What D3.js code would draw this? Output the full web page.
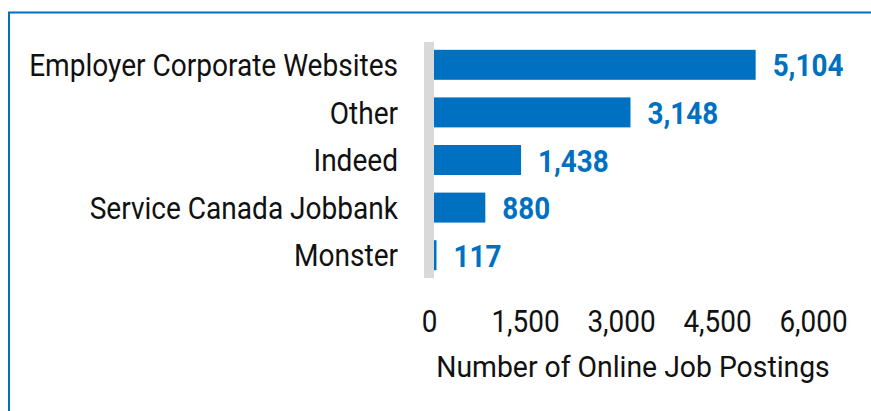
<!DOCTYPE html>
<html>
<head>
<meta charset="utf-8">
<script src="https://cdn.jsdelivr.net/npm/d3@7"></script>
<style>
  body { margin: 0; background: #fff; }
  svg { display: block; font-family: Roboto, sans-serif; }
</style>
</head>
<body>
<svg id="chart" width="871" height="411"></svg>
<script>
// data
var categories = ["Employer Corporate Websites", "Other", "Indeed", "Service Canada Jobbank", "Monster"];
var postings = [5104, 3148, 1438, 880, 117];
var tickValues = [0, 1500, 3000, 4500, 6000];
var axisTitle = "Number of Online Job Postings";

var blue = "#0070c0", grey = "#d9d9d9", ink = "#111";

var svg = d3.select("#chart");

// frame: only the top and left edges show
svg.append("path")
  .attr("d", "M9,420 V12.5 H880")
  .attr("fill", "none")
  .attr("stroke", blue)
  .attr("stroke-width", 2);

var x = d3.scaleLinear().domain([0, 6000]).range([429, 813]);
var y = d3.scaleBand().domain(categories).range([41, 279]).paddingInner(0.37).paddingOuter(0.185);

var rows = categories.map(function(c, i) { return { cat: c, val: postings[i] }; });

// the original type is a condensed face, so squeeze Roboto a bit
function squeeze(sx) {
  return function(d) {
    var t = d3.select(this);
    var px = +t.attr("x") || 0, py = +t.attr("y") || 0;
    t.attr("x", 0).attr("y", 0)
      .attr("transform", "translate(" + px + "," + py + ") scale(" + sx + ",1)");
  };
}

// bars
svg.append("g").selectAll("rect")
  .data(rows)
  .enter().append("rect")
  .attr("x", x(0))
  .attr("y", function(d) { return y(d.cat); })
  .attr("width", function(d) { return x(d.val) - x(0); })
  .attr("height", y.bandwidth())
  .attr("fill", blue);

// thick grey baseline
svg.append("rect")
  .attr("x", x(0) - 5)
  .attr("y", 42)
  .attr("width", 10)
  .attr("height", 236)
  .attr("fill", grey);

// category labels
svg.append("g").selectAll("text")
  .data(rows)
  .enter().append("text")
  .attr("x", 398)
  .attr("y", function(d) { return y(d.cat) + y.bandwidth() / 2; })
  .attr("dy", "0.36em")
  .attr("text-anchor", "end")
  .attr("font-size", 31)
  .attr("fill", ink)
  .text(function(d) { return d.cat; })
  .each(squeeze(0.905));

// value labels
var fmt = d3.format(",");
svg.append("g").selectAll("text")
  .data(rows)
  .enter().append("text")
  .attr("x", function(d) { return x(d.val) + 17; })
  .attr("y", function(d) { return y(d.cat) + y.bandwidth() / 2; })
  .attr("dy", "0.36em")
  .attr("font-size", 32)
  .attr("font-weight", "bold")
  .attr("fill", blue)
  .text(function(d) { return fmt(d.val); })
  .each(squeeze(0.87));

// x axis (labels only)
var axis = d3.axisBottom(x).tickValues(tickValues).tickFormat(fmt).tickSize(0).tickPadding(0);
var ax = svg.append("g").attr("transform", "translate(0,332)").call(axis);
ax.select(".domain").remove();
ax.selectAll("text")
  .attr("font-family", "Roboto, sans-serif")
  .attr("font-size", 31)
  .attr("fill", ink)
  .attr("dy", 0)
  .attr("transform", "scale(0.9,1)");

svg.append("text")
  .attr("x", 633)
  .attr("y", 377)
  .attr("text-anchor", "middle")
  .attr("font-size", 30)
  .attr("fill", ink)
  .text(axisTitle)
  .each(squeeze(0.945));
</script>
</body>
</html>
